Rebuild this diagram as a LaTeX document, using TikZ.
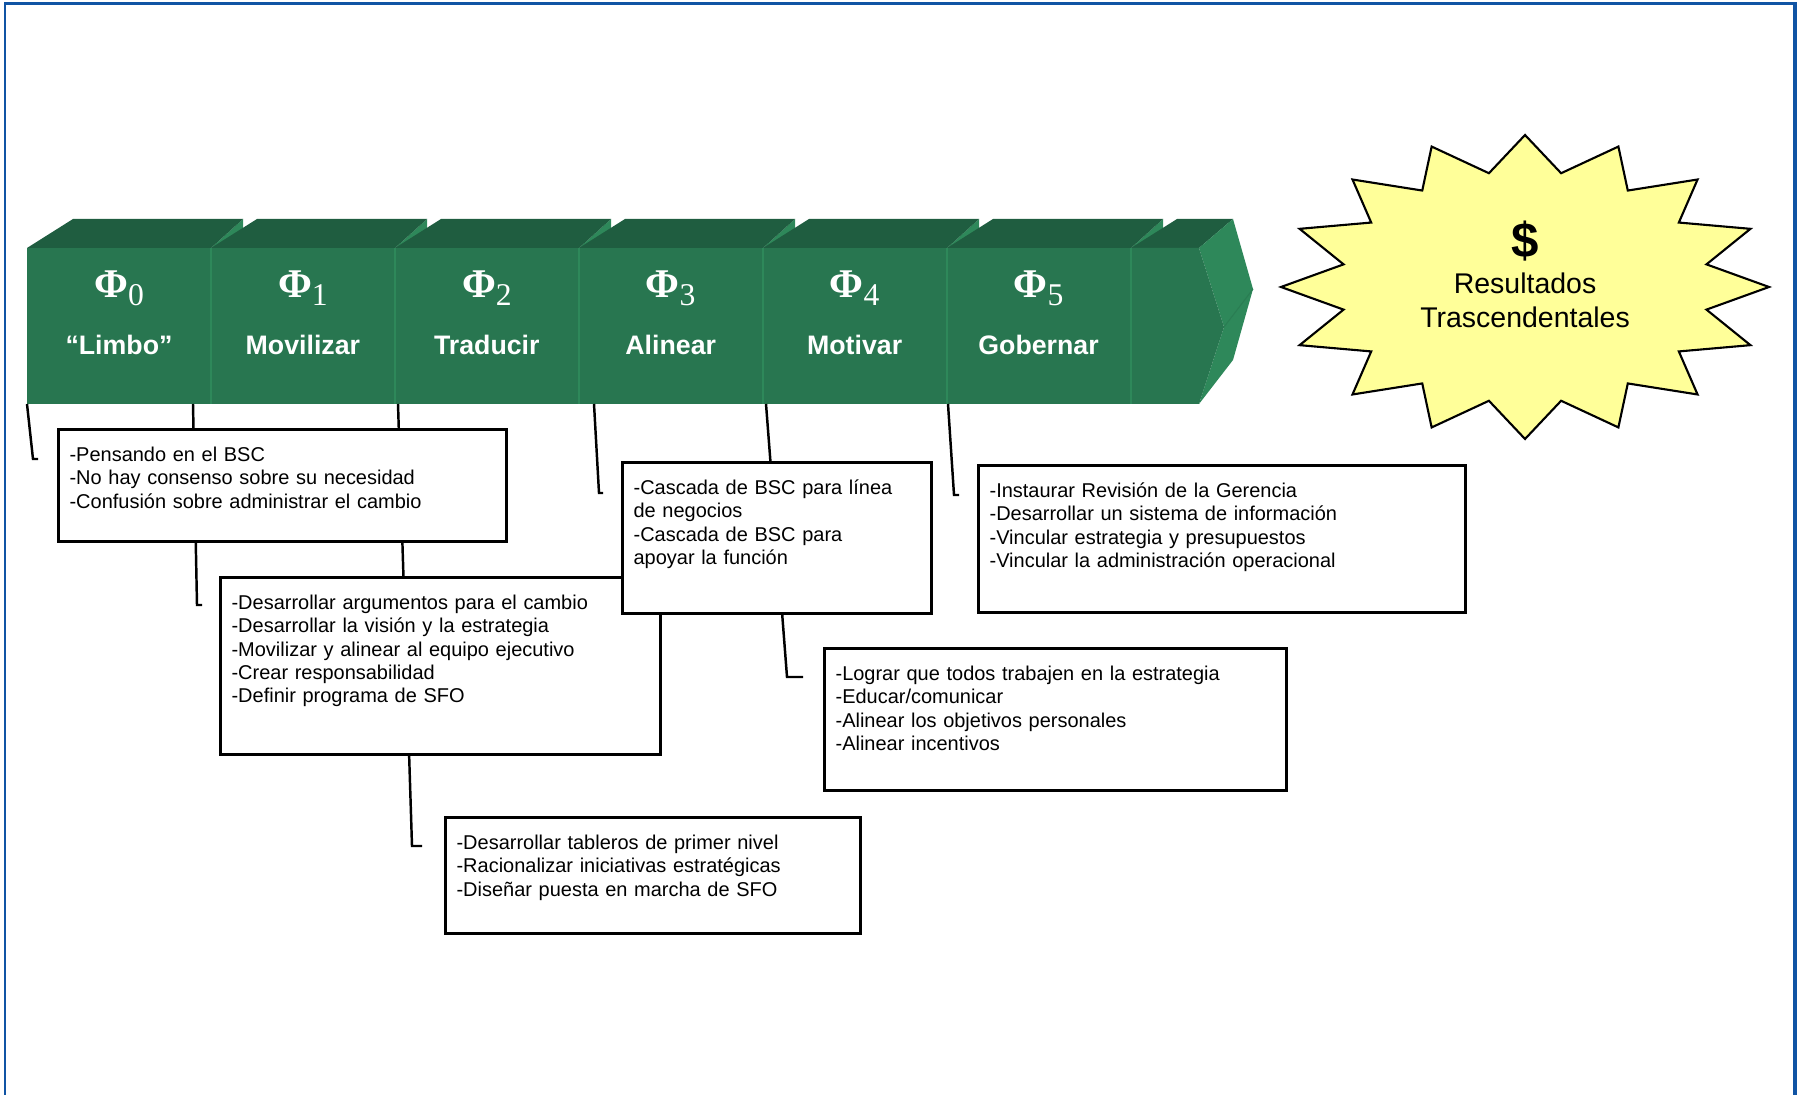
\documentclass[tikz,border=0pt]{standalone}
\usepackage{fontspec}
\setmainfont{Liberation Sans}
\newfontfamily\greekfont{Liberation Serif}
\usetikzlibrary{positioning}

\definecolor{frente}{RGB}{40,118,80}
\definecolor{tapa}{RGB}{31,93,64}
\definecolor{lado}{RGB}{46,136,90}
\definecolor{marco}{RGB}{16,84,164}
\definecolor{amarillo}{RGB}{255,255,153}

\newcommand{\fase}[2]{{\greekfont\fontsize{11.6}{12}\selectfont\bfseries Φ\raisebox{-0.08cm}{\fontsize{9}{9}\selectfont\mdseries #1}}\\#2}

\begin{document}
\begin{tikzpicture}
	[x=0.01cm, y=-0.01cm,
	fase/.style={anchor=north, minimum width=1.838cm, inner sep=0pt, outer sep=0pt, align=center, text=white, font=\fontsize{7.6}{16.2}\selectfont\bfseries},
	caja/.style={draw, fill=white, line width=0.9pt, anchor=north west, inner xsep=0.11cm, inner ysep=0pt, text height=0.32cm, align=left, font=\fontsize{5.68}{6.63}\selectfont},
	guia/.style={line width=0.7pt},
	estrella/.style={draw, fill=amarillo, line width=0.6pt, line join=miter},
	resultado/.style={anchor=north, inner sep=0pt, align=center, font=\fontsize{8.1}{9.7}\selectfont}]

	\useasboundingbox (0,0) rectangle (1798,1095);
	\draw[marco, line width=0.6pt] (5,1100) -- (5,3.5);
	\draw[marco, line width=0.9pt] (4,3.5) -- (1795,3.5) -- (1795,1100);

	\foreach \x in {27,211,395,579,763,947}{
		\fill[lado] (\x+184,248) -- (\x+216,219) -- (\x+216,375) -- (\x+184,404) -- cycle;
		\fill[tapa] (\x,248) -- (\x+46,219) -- (\x+216,219) -- (\x+184,248) -- cycle;
		\fill[frente] (\x,248) rectangle (\x+184,404);
	}
	\fill[tapa] (1131,248) -- (1177,219) -- (1233,219) -- (1199,248) -- cycle;
	\fill[lado] (1199,248) -- (1233,219) -- (1253,289) -- (1233,360) -- (1199,404) -- (1224,327) -- cycle;
	\fill[frente] (1131,248) -- (1199,248) -- (1224,327) -- (1199,404) -- (1131,404) -- cycle;
	\draw[lado!92!black, line width=0.3pt] (1224,327) -- (1253,289);
	\foreach \x in {211,395,579,763,947,1131}
		\draw[lado, line width=0.8pt] (\x,248) -- (\x,404);

	\node [fase] (p0) at (119,271) {\fase{0}{“Limbo”}};
	\node [fase] (p1) [right=0pt of p0] {\fase{1}{Movilizar}};
	\node [fase] (p2) [right=0pt of p1] {\fase{2}{Traducir}};
	\node [fase] (p3) [right=0pt of p2] {\fase{3}{Alinear}};
	\node [fase] (p4) [right=0pt of p3] {\fase{4}{Motivar}};
	\node [fase] (p5) [right=0pt of p4] {\fase{5}{Gobernar}};

	\foreach \i/\sx/\kx/\ky/\ex in {0/27/33/459/38, 1/193/197/605/202, 2/398/412/846/422, 3/594/599/493/603, 4/766/787/677/803, 5/948/954/495/959}{
		\coordinate (s\i) at (\sx,404);
		\coordinate (k\i) at (\kx,\ky);
		\coordinate (e\i) at (\ex,\ky);
		\draw[guia] (s\i) -- (k\i) -- (e\i);
	}

	\node [caja, text width=4.26cm, text depth=0.80cm] (c0) at (57,428) {-Pensando en el BSC\\-No hay consenso sobre su necesidad\\-Confusión sobre administrar el cambio};
	\node [caja, text width=4.18cm, text depth=1.45cm] (c1) at (219,576) {-Desarrollar argumentos para el cambio\\-Desarrollar la visión y la estrategia\\-Movilizar y alinear al equipo ejecutivo\\-Crear responsabilidad\\-Definir programa de SFO};
	\node [caja, text width=3.93cm, text depth=0.84cm] (c2) at (444,816) {-Desarrollar tableros de primer nivel\\-Racionalizar iniciativas estratégicas\\-Diseñar puesta en marcha de SFO};
	\node [caja, text width=2.87cm, text depth=1.19cm] (c3) at (621,461) {-Cascada de BSC para línea\\de negocios\\-Cascada de BSC para\\apoyar la función};
	\node [caja, text width=4.40cm, text depth=1.10cm] (c4) at (823,647) {-Lograr que todos trabajen en la estrategia\\-Educar/comunicar\\-Alinear los objetivos personales\\-Alinear incentivos};
	\node [caja, text width=4.65cm, text depth=1.15cm] (c5) at (977,464) {-Instaurar Revisión de la Gerencia\\-Desarrollar un sistema de información\\-Vincular estrategia y presupuestos\\-Vincular la administración operacional};

	\begin{scope}[shift={(1525,287)}]
		\draw[estrella] (90:244 and 152) foreach \k in {0,...,15}{ -- ({101.25+22.5*\k}:185 and 116) -- ({112.5+22.5*\k}:244 and 152)} -- cycle;
	\end{scope}
	\node [resultado] (res) at (1525,220) {{\fontsize{14}{14}\selectfont\bfseries\$}\\[0.5pt]Resultados\\Trascendentales};

\end{tikzpicture}
\end{document}
